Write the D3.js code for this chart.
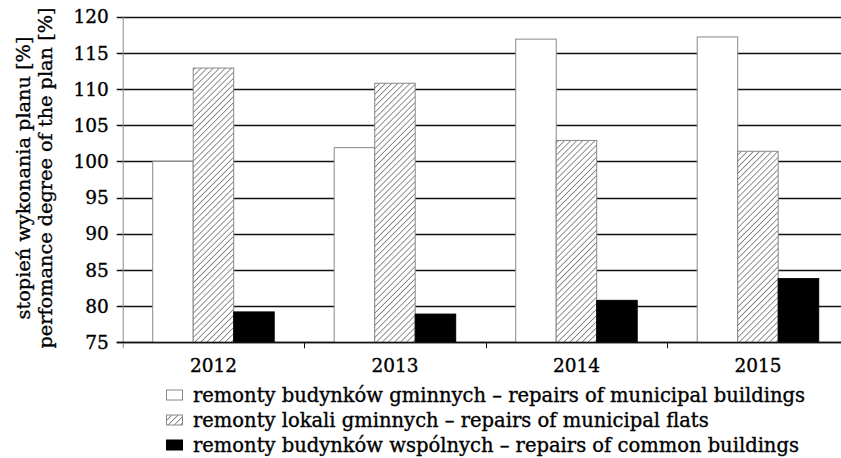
<!DOCTYPE html>
<html>
<head>
<meta charset="utf-8">
<script src="https://cdn.jsdelivr.net/npm/d3@7"></script>
<style>
  body { margin: 0; background: #fff; }
  text { font-family: "DejaVu Serif", serif; fill: #000; stroke: #000; stroke-width: 0.35px; }
</style>
</head>
<body>
<script>
// data
var years = ["2012", "2013", "2014", "2015"];
var municipalBuildings = [100, 101.9, 116.9, 117.2];
var municipalFlats = [112.9, 110.8, 102.9, 101.4];
var commonBuildings = [79.2, 78.9, 80.8, 83.8];
var yTicks = [75, 80, 85, 90, 95, 100, 105, 110, 115, 120];
var seriesNames = [
  "remonty budynków gminnych – repairs of municipal buildings",
  "remonty lokali gminnych – repairs of municipal flats",
  "remonty budynków wspólnych – repairs of common buildings"
];
var yTitle = ["stopień wykonania planu [%]", "perfomance degree of the plan [%]"];

var series = [municipalBuildings, municipalFlats, commonBuildings];
var fills = ["#fff", "url(#hatch)", "#000"];

var width = 841, height = 458;
var plotLeft = 122.7, plotTop = 16.7, plotBottom = 342.3;
var bandW = 181.5;

var svg = d3.select("body").append("svg")
  .attr("width", width).attr("height", height);

// hatch pattern for the flats series
var defs = svg.append("defs");
defs.append("pattern")
  .attr("id", "hatch")
  .attr("patternUnits", "userSpaceOnUse")
  .attr("width", 4.3).attr("height", 4.3)
  .attr("patternTransform", "rotate(45)")
  .call(function(p){
    p.append("rect").attr("width", 4.3).attr("height", 4.3).attr("fill", "#fff");
    p.append("line").attr("x1", 0).attr("y1", 0).attr("x2", 0).attr("y2", 4.3)
      .attr("stroke", "#222").attr("stroke-width", 1);
  });

var x = d3.scaleBand().domain(years).range([plotLeft, plotLeft + bandW * years.length]);
// 3 bars of ~40.5px in a 181.5px band, ~30px of space on each side
var x1 = d3.scaleBand().domain(d3.range(series.length))
  .range([30, bandW - 30]);
var y = d3.scaleLinear().domain([75, 120]).range([plotBottom, plotTop]);

// gridlines
svg.append("g").selectAll("line").data(yTicks).enter().append("line")
  .attr("x1", plotLeft - 6).attr("x2", width)
  .attr("y1", function(d){ return Math.round(y(d)) + 0.5; })
  .attr("y2", function(d){ return Math.round(y(d)) + 0.5; })
  .attr("stroke", "#111").attr("stroke-width", 1.6);

// y tick labels
svg.append("g").selectAll("text").data(yTicks).enter().append("text")
  .attr("x", plotLeft - 14).attr("y", function(d){ return y(d); })
  .attr("dy", "0.36em")
  .attr("text-anchor", "end")
  .attr("font-size", "18.5px")
  .text(function(d){ return d; });

// bars
var groups = svg.append("g").selectAll("g").data(years).enter().append("g")
  .attr("transform", function(d){ return "translate(" + x(d) + ",0)"; });
groups.selectAll("rect")
  .data(function(d, i){ return series.map(function(s, k){ return {k: k, v: s[i]}; }); })
  .enter().append("rect")
  .attr("x", function(d){ return x1(d.k); })
  .attr("width", x1.bandwidth())
  .attr("y", function(d){ return y(d.v); })
  .attr("height", function(d){ return y(75) - y(d.v); })
  .attr("fill", function(d){ return fills[d.k]; })
  .attr("stroke", function(d){ return d.k == 2 ? "#000" : "#888"; })
  .attr("stroke-width", 1);

// axis lines and category ticks
svg.append("line").attr("x1", plotLeft + 0.5).attr("x2", plotLeft + 0.5)
  .attr("y1", plotTop).attr("y2", plotBottom + 6)
  .attr("stroke", "#888").attr("stroke-width", 1);
svg.append("line").attr("x1", plotLeft - 6).attr("x2", width)
  .attr("y1", Math.round(y(75)) + 0.5).attr("y2", Math.round(y(75)) + 0.5)
  .attr("stroke", "#111").attr("stroke-width", 1.6);
svg.append("g").selectAll("line").data(years.slice(1)).enter().append("line")
  .attr("x1", function(d){ return Math.round(x(d)) + 0.5; })
  .attr("x2", function(d){ return Math.round(x(d)) + 0.5; })
  .attr("y1", plotBottom).attr("y2", plotBottom + 6)
  .attr("stroke", "#111").attr("stroke-width", 1);

// year labels
svg.append("g").selectAll("text").data(years).enter().append("text")
  .attr("x", function(d){ return x(d) + x.bandwidth() / 2; })
  .attr("y", 371.5)
  .attr("text-anchor", "middle")
  .attr("font-size", "18.5px")
  .text(function(d){ return d; });

// y title
var yt = svg.append("text")
  .attr("transform", "translate(30,178) rotate(-90)")
  .attr("text-anchor", "middle")
  .attr("font-size", "19.3px");
yt.append("tspan").attr("x", 0).attr("y", 0).text(yTitle[0]);
yt.append("tspan").attr("x", 0).attr("y", 22).text(yTitle[1]);

// legend
var legend = svg.append("g").selectAll("g").data(seriesNames).enter().append("g")
  .attr("transform", function(d, i){ return "translate(166," + (401.5 + i * 25) + ")"; });
legend.append("rect")
  .attr("x", 0.5).attr("y", -11.5).attr("width", 16).attr("height", 10)
  .attr("fill", function(d, i){ return fills[i]; })
  .attr("stroke", function(d, i){ return i == 2 ? "#000" : "#888"; });
legend.append("text")
  .attr("x", 27).attr("y", 0)
  .attr("font-size", "19.5px")
  .text(function(d){ return d; });
</script>
</body>
</html>
